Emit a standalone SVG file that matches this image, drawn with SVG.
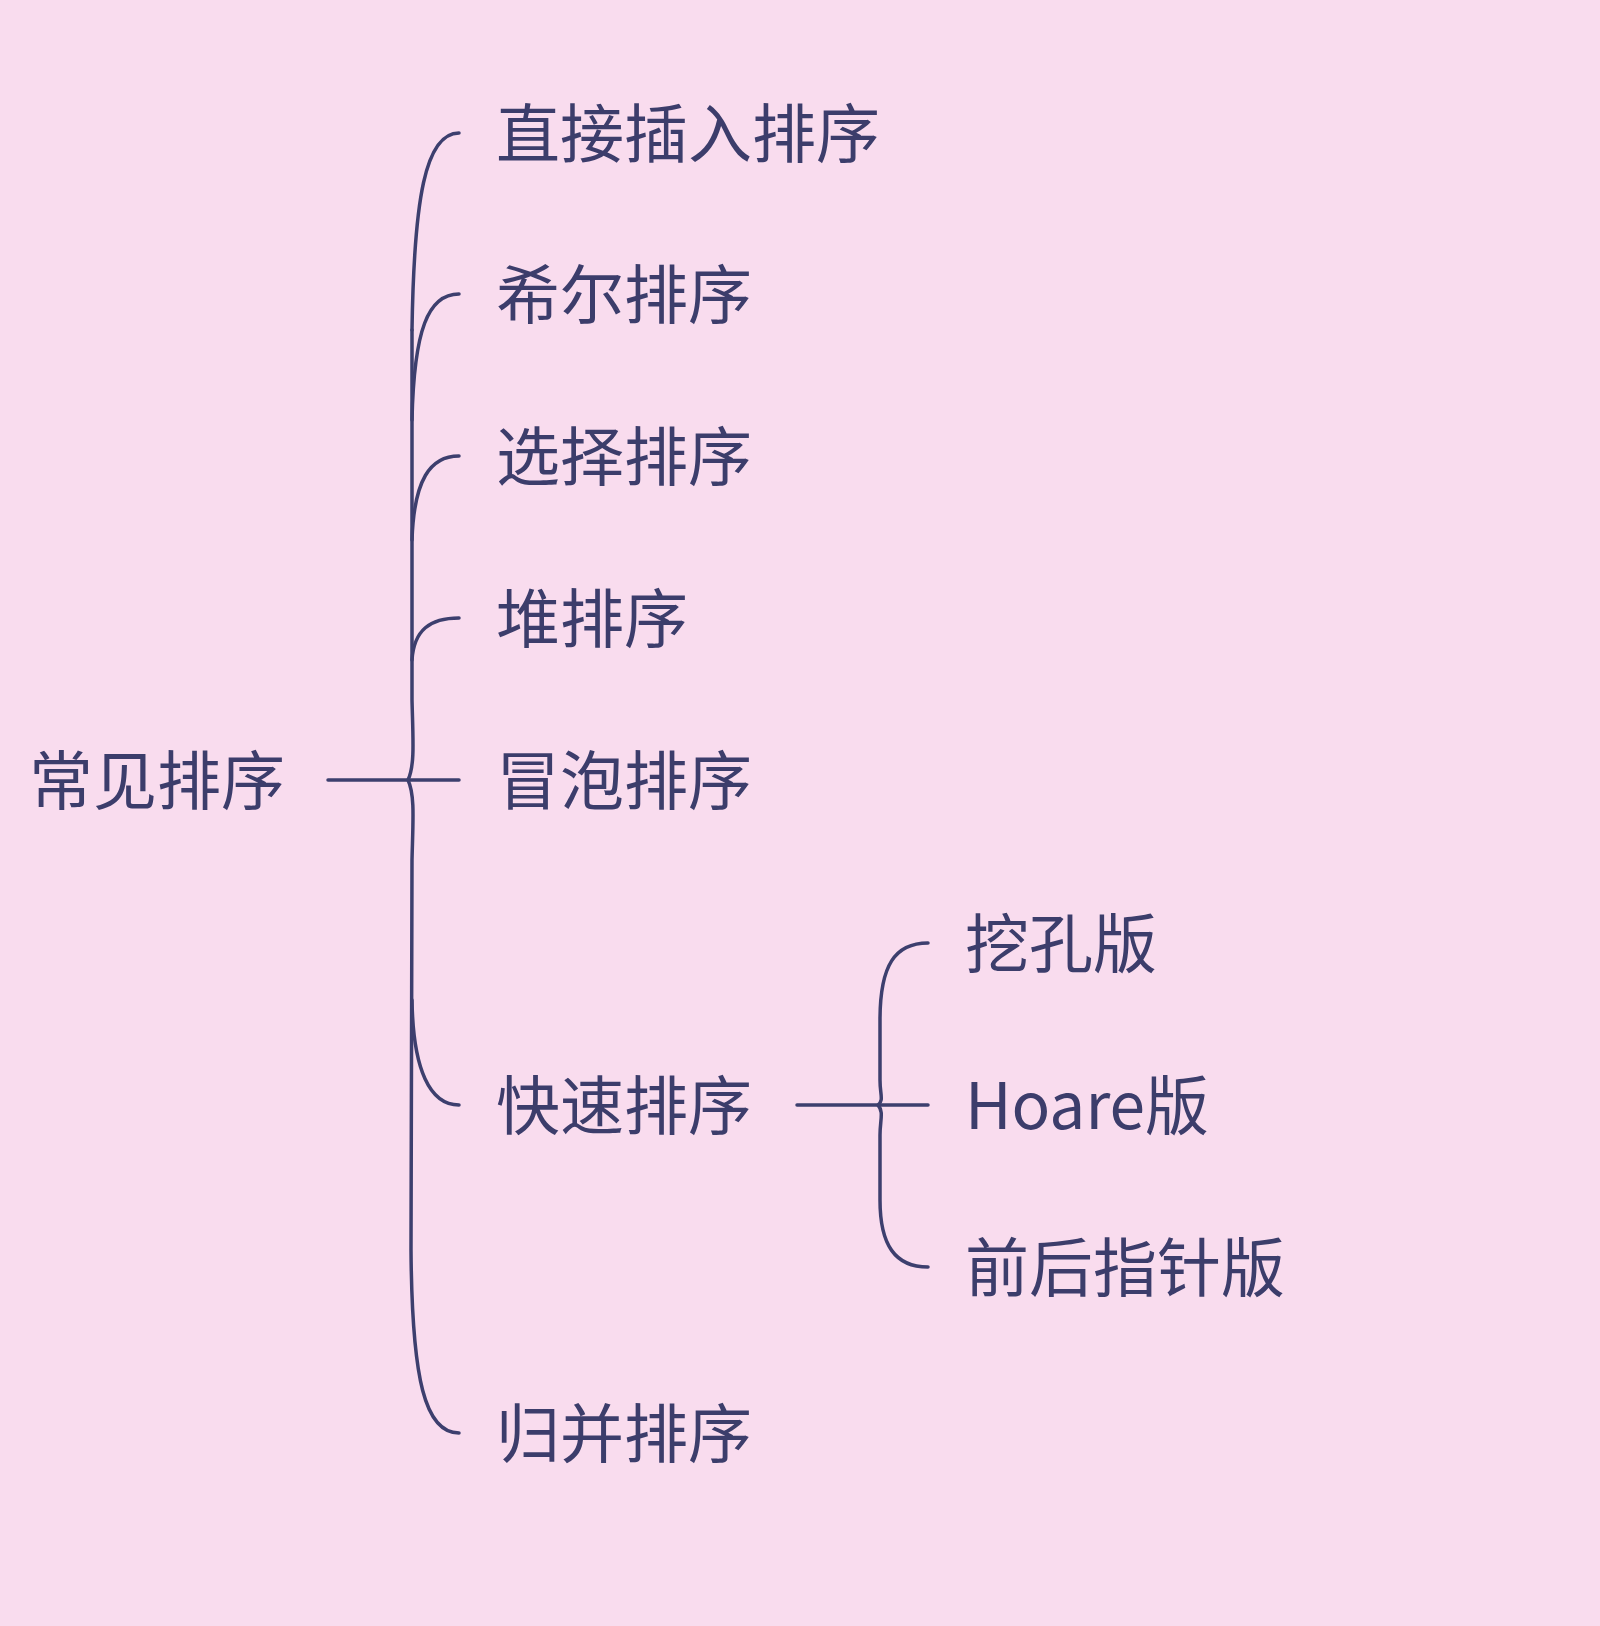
<svg xmlns="http://www.w3.org/2000/svg" width="1600" height="1626" viewBox="0 0 1600 1626">
<style>
.t{font-family:"Noto Sans CJK SC","Noto Sans",sans-serif;font-size:64px;fill:#3c3d6b}
.c{fill:none;stroke:#3d3f6e;stroke-width:3.5;stroke-linecap:round}
</style>
<rect width="1600" height="1626" fill="#f9dcee"/>
<g id="connectors">
<path class="c" d="M328 780 L459 780"/>
<path class="c" d="M459 133 C425 133 414 200 412 330"/>
<path class="c" d="M459 294 C428 294 414 330 412 420"/>
<path class="c" d="M459 456 C430 456 414 480 412 540"/>
<path class="c" d="M459 618 C430 618 414 630 412 660"/>
<path class="c" d="M412 330 L412 700 C413 740 415 765 408 780 C415 795 413 820 412 860 L411 1250 C412 1380 425 1433 459 1433"/>
<path class="c" d="M412 1000 C413 1070 430 1105 459 1105"/>
<path class="c" d="M797 1105 L928 1105"/>
<path class="c" d="M928 943 C895 943 880 965 880 1020 L880 1080 C880 1095 884 1100 878 1105 C884 1112 880 1120 880 1135 L880 1200 C880 1245 895 1267 928 1267"/>
</g>
<g id="root"><text class="t" x="29" y="804">常见排序</text></g>
<g id="n1"><text class="t" x="496" y="157">直接插入排序</text></g>
<g id="n2"><text class="t" x="496" y="318">希尔排序</text></g>
<g id="n3"><text class="t" x="496" y="480">选择排序</text></g>
<g id="n4"><text class="t" x="496" y="642">堆排序</text></g>
<g id="n5"><text class="t" x="496" y="804">冒泡排序</text></g>
<g id="n6"><text class="t" x="496" y="1129">快速排序</text></g>
<g id="n7"><text class="t" x="496" y="1457">归并排序</text></g>
<g id="s1"><text class="t" x="965" y="967">挖孔版</text></g>
<g id="s2"><text class="t" x="965" y="1129">Hoare版</text></g>
<g id="s3"><text class="t" x="965" y="1291">前后指针版</text></g>
</svg>
